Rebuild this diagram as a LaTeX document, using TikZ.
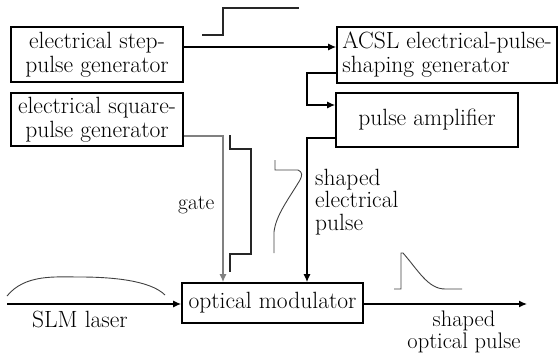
\documentclass[tikz,border=0pt]{standalone}
\usepackage{fontspec}
\usetikzlibrary{arrows.meta}
\begin{document}
\begin{tikzpicture}[x=1pt,y=-1pt,
  box/.style={draw,line width=1.6pt,inner sep=0pt,align=center,
    font=\fontsize{23.5}{24}\selectfont},
  lbl/.style={inner sep=0pt,font=\fontsize{23.5}{24}\selectfont},
  conn/.style={line width=1.3pt,-{Latex[length=8pt,width=7pt]}},
  wave/.style={line width=1.2pt,black!85},
  thinwave/.style={line width=0.9pt,black!75}]
\useasboundingbox (0,0) rectangle (558,356);
% boxes
\node[box,minimum width=172pt,minimum height=55pt] (step) at (97,54.5)
  {electrical step-\\pulse generator};
\node[box,minimum width=172pt,minimum height=53pt] (square) at (97,119.5)
  {electrical square-\\pulse generator};
\node[box,minimum width=220pt,minimum height=56pt,align=left] (acsl) at (447,55)
  {ACSL electrical-pulse-\\shaping generator};
\node[box,minimum width=182pt,minimum height=54pt] (amp) at (427,120)
  {pulse amplifier};
\node[box,minimum width=181pt,minimum height=40pt] (mod) at (272.5,303)
  {optical modulator};
% coordinates
\coordinate (laser) at (7,304);
\coordinate (out) at (527,304);
% connectors
\draw[conn] (step.east |- 0,47) -- (acsl.west |- 0,47);
\draw[conn] (acsl.west |- 0,73) -- (307,73) -- (307,105) -- (amp.west |- 0,105);
\draw[conn] (amp.west |- 0,138) -- (307,138) -- (mod.north -| 307,0);
\draw[conn,black!50] (square.east |- 0,136) -- (223,136) -- (mod.north -| 223,0);
\draw[conn] (laser) -- (mod.west |- laser);
\draw[conn] (mod.east |- out) -- (out);
% waveforms
\draw[wave] (202,35) -- (223,35) -- (223,8) -- (299,8);
\draw[wave] (230,135) -- (230,149) -- (251,149) -- (251,254) -- (230,254) -- (230,272);
\draw[thinwave] (275,160) -- (275,170) -- (298,170) .. controls (303,172) and (302,176) .. (300,180)
  .. controls (288,200) and (276,215) .. (274,232) -- (274,253);
\draw[thinwave] (7,296) .. controls (25,274) and (55,277) .. (80,277)
  .. controls (110,277) and (150,280) .. (165,295);
\draw[thinwave] (394,289) -- (401,289) -- (401,253) -- (403,253)
  .. controls (418,270) and (428,289) .. (445,289) -- (462,289);
% labels
\node[lbl,anchor=base west,font=\fontsize{21.5}{22}\selectfont] (gate) at (178,209) {gate};
\node[lbl,anchor=base west] (sep1) at (315,185) {shaped};
\node[lbl,anchor=base west] (sep2) at (315,207) {electrical};
\node[lbl,anchor=base west] (sep3) at (315,230) {pulse};
\node[lbl,anchor=base west] (slm) at (32,327) {SLM laser};
\node[lbl,anchor=base,font=\fontsize{22.5}{23}\selectfont] (sop1) at (464,326) {shaped};
\node[lbl,anchor=base,font=\fontsize{22.5}{23}\selectfont] (sop2) at (464,348) {optical pulse};
\end{tikzpicture}
\end{document}
